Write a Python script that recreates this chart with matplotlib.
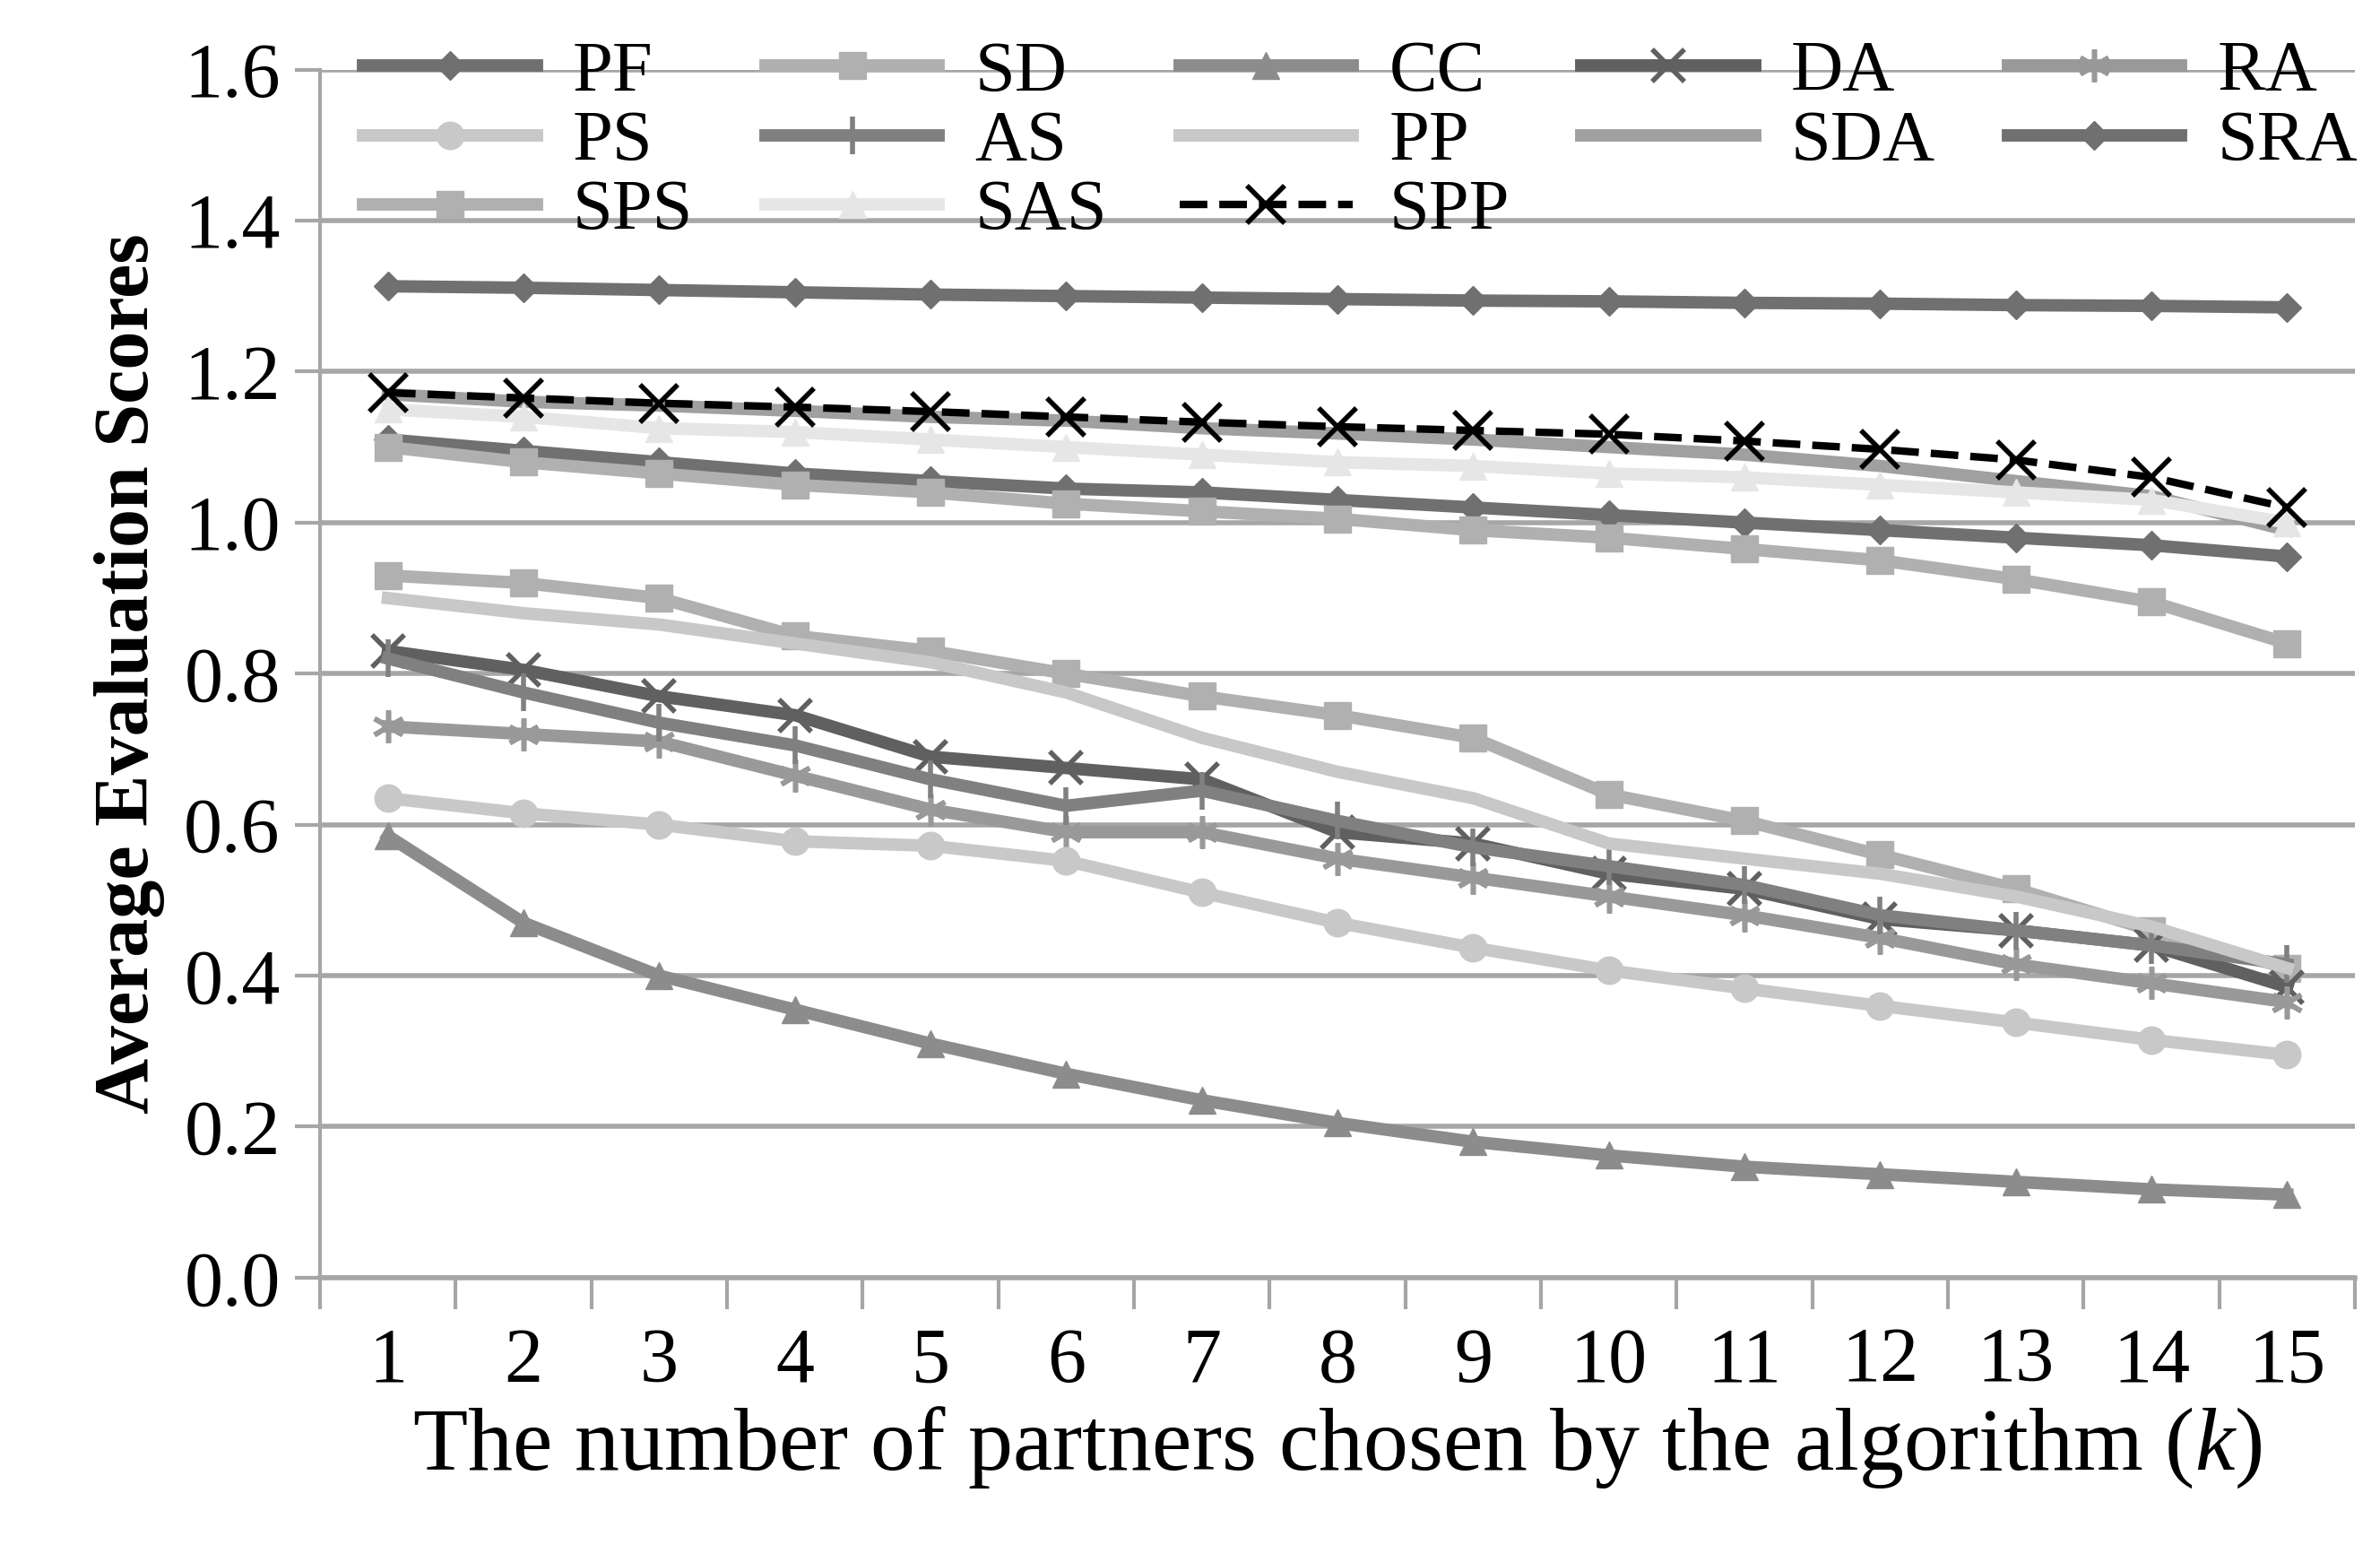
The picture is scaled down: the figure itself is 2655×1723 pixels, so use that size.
import numpy as np
import matplotlib
matplotlib.use('Agg')
import matplotlib.pyplot as plt
from matplotlib.ticker import FixedLocator

plt.rcParams['font.family'] = ['Liberation Serif', 'DejaVu Serif']
plt.rcParams['mathtext.fontset'] = 'custom'
plt.rcParams['mathtext.it'] = 'Liberation Serif:italic'
plt.rcParams['mathtext.rm'] = 'Liberation Serif'

k = np.arange(1, 16)

PF  = [1.313, 1.311, 1.308, 1.305, 1.302, 1.300, 1.298, 1.296, 1.294, 1.293, 1.291, 1.290, 1.288, 1.287, 1.285]
SD  = [0.93, 0.92, 0.90, 0.85, 0.83, 0.80, 0.77, 0.745, 0.715, 0.64, 0.605, 0.56, 0.515, 0.46, 0.41]
CC  = [0.585, 0.47, 0.40, 0.355, 0.31, 0.27, 0.235, 0.205, 0.18, 0.162, 0.147, 0.137, 0.127, 0.117, 0.11]
DA  = [0.83, 0.805, 0.77, 0.745, 0.69, 0.675, 0.66, 0.59, 0.575, 0.535, 0.515, 0.475, 0.46, 0.44, 0.385]
RA  = [0.73, 0.72, 0.71, 0.665, 0.62, 0.59, 0.59, 0.555, 0.53, 0.505, 0.48, 0.45, 0.415, 0.39, 0.365]
PS  = [0.635, 0.615, 0.60, 0.578, 0.572, 0.552, 0.51, 0.47, 0.437, 0.407, 0.383, 0.36, 0.338, 0.315, 0.295]
AS  = [0.82, 0.775, 0.735, 0.705, 0.66, 0.625, 0.645, 0.605, 0.57, 0.545, 0.52, 0.48, 0.46, 0.44, 0.415]
PP  = [0.90, 0.88, 0.865, 0.84, 0.815, 0.775, 0.715, 0.67, 0.635, 0.575, 0.555, 0.535, 0.505, 0.465, 0.41]
SDA = [1.17, 1.16, 1.155, 1.148, 1.14, 1.135, 1.125, 1.118, 1.11, 1.10, 1.09, 1.075, 1.055, 1.035, 0.99]
SRA = [1.11, 1.095, 1.08, 1.065, 1.055, 1.045, 1.04, 1.03, 1.02, 1.01, 1.0, 0.99, 0.98, 0.97, 0.955]
SPS = [1.10, 1.08, 1.065, 1.05, 1.04, 1.025, 1.015, 1.005, 0.99, 0.98, 0.965, 0.95, 0.925, 0.895, 0.84]
SAS = [1.15, 1.14, 1.125, 1.12, 1.11, 1.10, 1.09, 1.08, 1.075, 1.065, 1.06, 1.05, 1.04, 1.03, 1.0]
SPP = [1.172, 1.165, 1.158, 1.153, 1.147, 1.14, 1.133, 1.127, 1.122, 1.117, 1.108, 1.097, 1.083, 1.06, 1.02]

# name, data, colour, marker, marker size, linestyle
series = [
    ('PF', PF, '#707070', 'D', 16, '-'),
    ('SD', SD, '#b0b0b0', 's', 22, '-'),
    ('CC', CC, '#8c8c8c', '^', 22, '-'),
    ('DA', DA, '#606060', 'x', 26, '-'),
    ('RA', RA, '#999999', (6, 2, 0), 26, '-'),
    ('PS', PS, '#c8c8c8', 'o', 22, '-'),
    ('AS', AS, '#808080', '|', 30, '-'),
    ('PP', PP, '#c8c8c8', None, 0, '-'),
    ('SDA', SDA, '#a0a0a0', None, 0, '-'),
    ('SRA', SRA, '#707070', 'D', 16, '-'),
    ('SPS', SPS, '#b0b0b0', 's', 22, '-'),
    ('SAS', SAS, '#e6e6e6', '^', 22, '-'),
    ('SPP', SPP, '#000000', 'x', 30, '--'),
]

fig = plt.figure(figsize=(26.55, 17.23), dpi=100)
ax = fig.add_axes([0.1345, 0.173, 0.855, 0.782])

handles = {}
for name, y, c, m, ms, ls in series:
    lw = 6 if name == 'SPP' else 10
    h, = ax.plot(k, y, color=c, marker=m, markersize=ms, linestyle=ls, linewidth=lw,
                 markeredgewidth=4 if m in ('x', '|', (6, 2, 0)) else 1,
                 markeredgecolor=c, label=name, zorder=3)
    handles[name] = h

ax.set_xlim(0.5, 15.5)
ax.set_ylim(0, 1.6)
yt = np.arange(0, 1.61, 0.2)
ax.set_yticks(yt)
ax.set_yticklabels(['%.1f' % v for v in yt])
ax.grid(axis='y', color='#a6a6a6', linewidth=4, zorder=0)
ax.set_axisbelow(True)
for s in ['top', 'right']:
    ax.spines[s].set_visible(False)
ax.spines['left'].set_color('#a6a6a6')
ax.spines['left'].set_linewidth(3)
ax.spines['bottom'].set_color('#a6a6a6')
ax.spines['bottom'].set_linewidth(4)

ax.set_xticks(k)
ax.xaxis.set_minor_locator(FixedLocator(np.arange(0.5, 16, 1)))
ax.tick_params(axis='x', which='major', length=0, pad=40, labelsize=62)
ax.tick_params(axis='x', which='minor', length=25, width=3, color='#a6a6a6', direction='out')
ax.tick_params(axis='y', which='major', length=20, width=3, color='#a6a6a6', labelsize=62, pad=12)

ax.set_xlabel('The number of partners chosen by the algorithm ($\\mathit{k}$)', fontsize=72, labelpad=5)
ax.set_ylabel('Average Evaluation Scores', fontsize=62, fontweight='bold', labelpad=15)

# legend reads row by row, matplotlib fills columns, so reorder
names = [s[0] for s in series]
rows = [names[i:i + 5] for i in range(0, len(names), 5)]
order = []
for col in range(5):
    for r in rows:
        if col < len(r):
            order.append(r[col])
ax.legend([handles[n] for n in order], order, loc='upper left', bbox_to_anchor=(0.0, 1.06),
          ncol=5, frameon=False, fontsize=58, handlelength=2.4, columnspacing=1.0,
          handletextpad=0.5, labelspacing=0.05, borderpad=0.1)

fig.savefig('out.png', dpi=100)
